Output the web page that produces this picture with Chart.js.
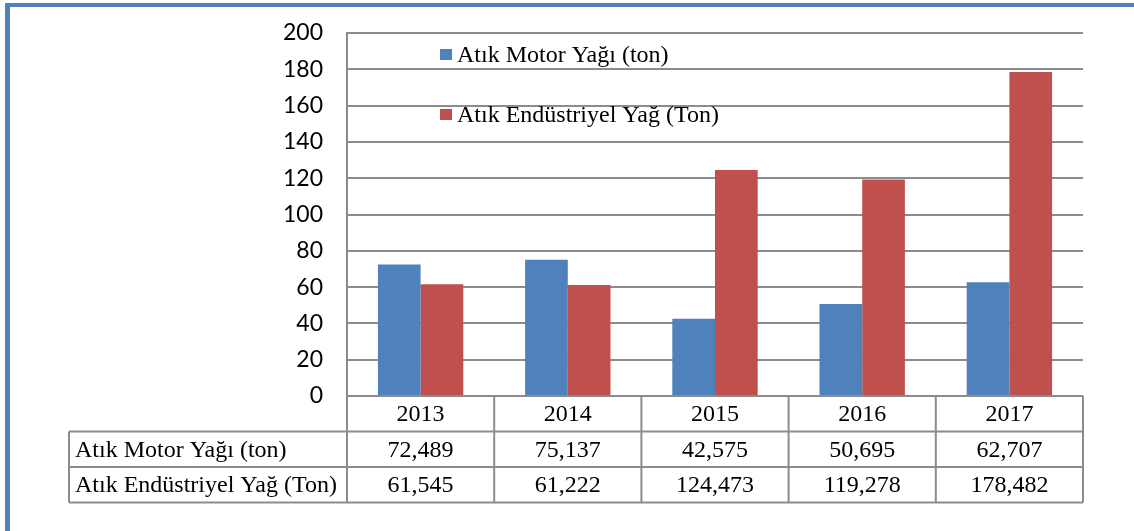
<!DOCTYPE html>
<html>
<head>
<meta charset="utf-8">
<script src="https://cdn.jsdelivr.net/npm/chart.js@4"></script>
<style>
  html, body { margin: 0; padding: 0; background: #fff; overflow: hidden; }
  canvas { display: block; }
</style>
</head>
<body>
<canvas id="chart1" width="1134" height="531"></canvas>
<script>
// data
var years = ['2013', '2014', '2015', '2016', '2017'];
var motorOil = [72.489, 75.137, 42.575, 50.695, 62.707];
var industrialOil = [61.545, 61.222, 124.473, 119.278, 178.482];
var seriesNames = ['Atık Motor Yağı (ton)', 'Atık Endüstriyel Yağ (Ton)'];
var yTicks = [0, 20, 40, 60, 80, 100, 120, 140, 160, 180, 200];

var blue = '#4F81BD';
var red = '#C0504D';
var lineGray = '#8c8c8c';
var serif = '"Liberation Serif", "Times New Roman", serif';

function fmt(v) {
    return v.toFixed(3).replace('.', ',');
}

// white page plus the blue frame (top and left edges)
var framePlugin = {
    id: 'frame',
    beforeDraw: function (chart) {
        var c = chart.ctx;
        c.save();
        c.fillStyle = '#fff';
        c.fillRect(0, 0, chart.width, chart.height);
        c.fillStyle = blue;
        c.fillRect(5, 3, chart.width - 5, 4);
        c.fillRect(5, 3, 5, chart.height - 3);
        c.restore();
    }
};

// legend sitting inside the plot
var innerLegend = {
    id: 'innerLegend',
    afterDraw: function (chart) {
        var c = chart.ctx;
        var a = chart.chartArea;
        c.save();
        c.font = '24px ' + serif;
        c.textBaseline = 'middle';
        chart.data.datasets.forEach(function (ds, i) {
            var y = a.top + 22 + i * 60;
            c.fillStyle = ds.backgroundColor;
            c.fillRect(a.left + 93, y - 6, 12, 11);
            c.fillStyle = '#000';
            c.fillText(ds.label, a.left + 110, y + 1);
        });
        c.restore();
    }
};

// data table under the axis
var dataTable = {
    id: 'dataTable',
    afterDraw: function (chart) {
        var c = chart.ctx;
        var a = chart.chartArea;
        var xs = chart.scales.x;
        var n = years.length;
        var w = (a.right - a.left) / n;
        var labelLeft = 69;
        var rows = [a.bottom, a.bottom + 35.5, a.bottom + 71, a.bottom + 106.5];

        c.save();
        c.strokeStyle = lineGray;
        c.lineWidth = 2;
        c.beginPath();
        c.moveTo(a.left, rows[0]); c.lineTo(a.right, rows[0]);
        for (var r = 1; r < rows.length; r++) {
            c.moveTo(labelLeft, rows[r]); c.lineTo(a.right, rows[r]);
        }
        c.moveTo(labelLeft, rows[1]); c.lineTo(labelLeft, rows[3]);
        for (var i = 0; i <= n; i++) {
            var bx = (i < n) ? xs.getPixelForValue(i) - w / 2 : xs.getPixelForValue(n - 1) + w / 2;
            c.moveTo(bx, rows[0]); c.lineTo(bx, rows[3]);
        }
        c.stroke();

        c.fillStyle = '#000';
        c.font = '24px ' + serif;
        c.textBaseline = 'middle';
        c.textAlign = 'center';
        years.forEach(function (y, i) {
            var cx = xs.getPixelForValue(i);
            c.fillText(y, cx, (rows[0] + rows[1]) / 2 + 1);
        });
        chart.data.datasets.forEach(function (ds, k) {
            var ymid = (rows[k + 1] + rows[k + 2]) / 2 + 1;
            c.textAlign = 'left';
            c.fillText(ds.label, labelLeft + 6, ymid);
            c.textAlign = 'center';
            ds.data.forEach(function (v, i) {
                c.fillText(fmt(v), xs.getPixelForValue(i), ymid);
            });
        });
        c.restore();
    }
};

var ctx = document.getElementById('chart1').getContext('2d');
var chart = new Chart(ctx, {
    type: 'bar',
    data: {
        labels: years,
        datasets: [{
            label: seriesNames[0],
            backgroundColor: blue,
            data: motorOil
        }, {
            label: seriesNames[1],
            backgroundColor: red,
            data: industrialOil
        }]
    },
    options: {
        responsive: false,
        animation: false,
        devicePixelRatio: 1,
        layout: {
            padding: { left: 0, right: 51, top: 33, bottom: 135 }
        },
        plugins: {
            legend: { display: false },
            tooltip: { enabled: false }
        },
        datasets: {
            bar: { categoryPercentage: 0.58, barPercentage: 1.0 }
        },
        scales: {
            x: {
                display: false
            },
            y: {
                min: yTicks[0],
                max: yTicks[yTicks.length - 1],
                afterFit: function (scale) {
                    scale.width = 347;
                    // the tick padding would otherwise push the plot down
                    scale.paddingTop = 0;
                    scale.paddingBottom = 0;
                },
                afterBuildTicks: function (scale) {
                    scale.ticks = yTicks.map(function (v) { return { value: v }; });
                },
                ticks: {
                    color: '#000',
                    padding: 24,
                    font: { family: 'Lato, "Open Sans", sans-serif', size: 23 }
                },
                grid: {
                    color: lineGray,
                    lineWidth: 2,
                    drawTicks: false
                },
                border: { color: lineGray, width: 2 }
            }
        }
    },
    plugins: [framePlugin, innerLegend, dataTable]
});
</script>
</body>
</html>
